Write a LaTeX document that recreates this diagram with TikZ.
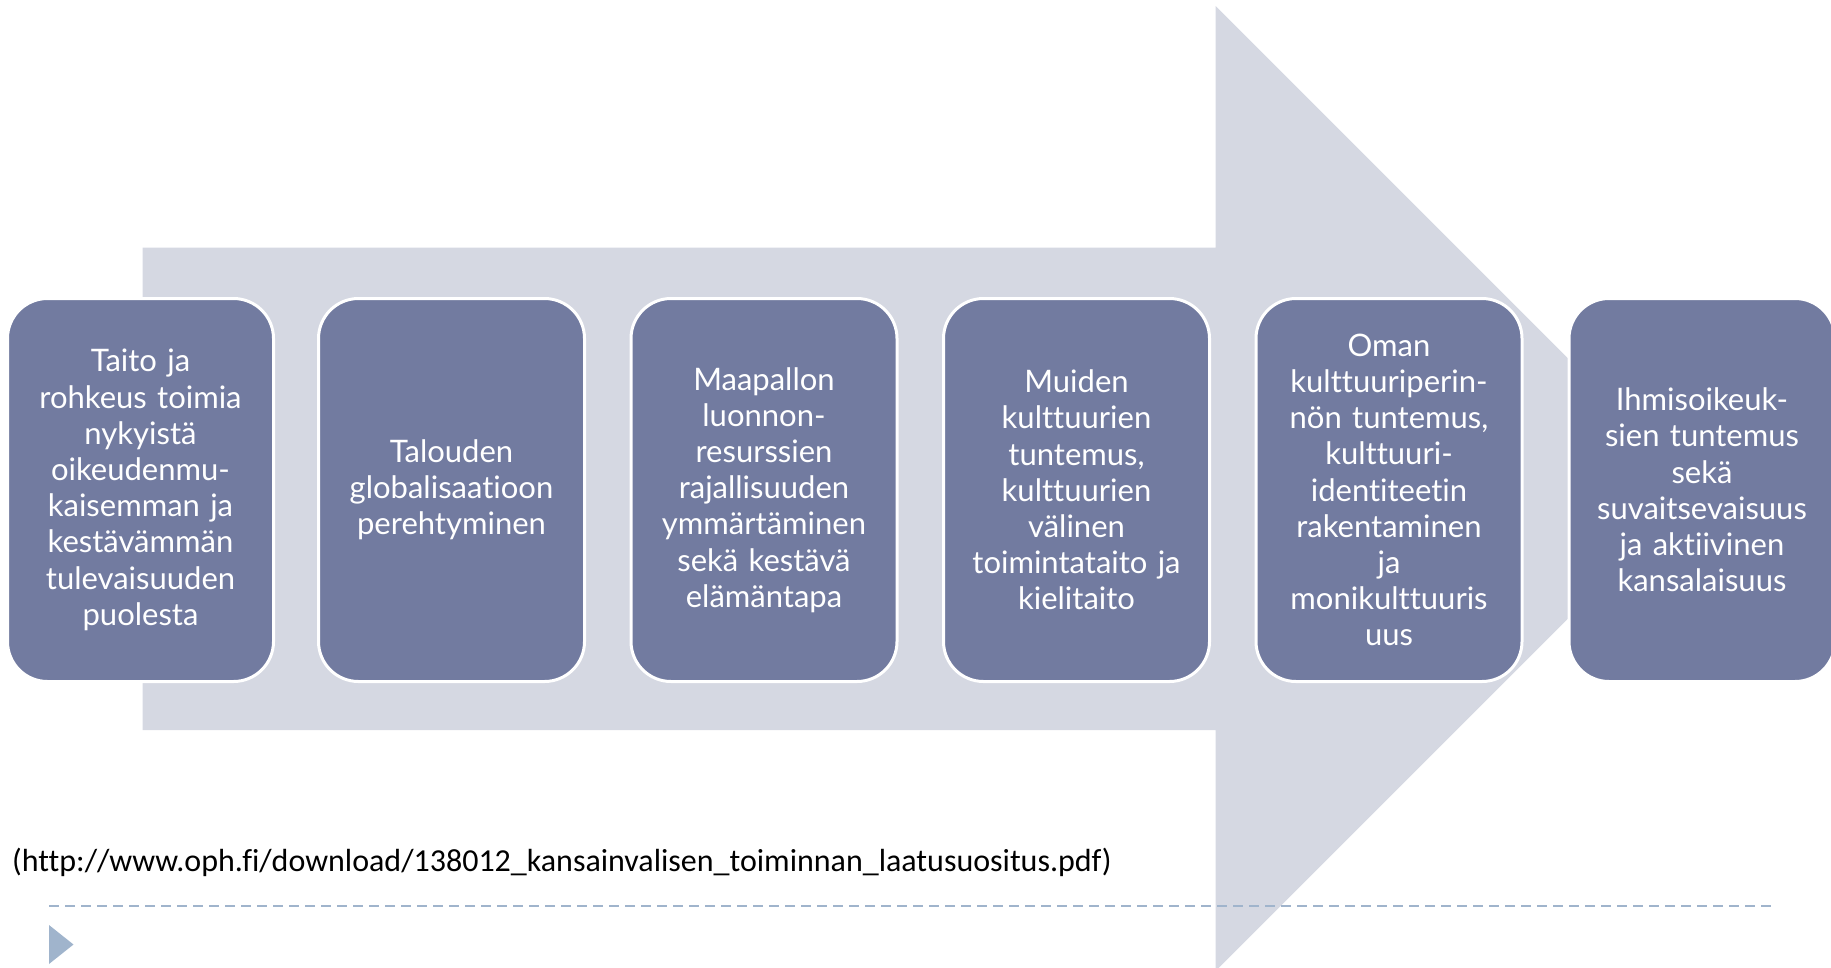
\documentclass[tikz,border=0pt]{standalone}
\usepackage{fontspec}
\setmainfont{Lato}[Ligatures=NoCommon]
\newfontfamily\urlfont{Carlito}[Ligatures=NoCommon]
\definecolor{boxfill}{RGB}{114,123,160}
\definecolor{arrowfill}{RGB}{213,216,226}
\definecolor{accent}{RGB}{160,180,204}
\begin{document}
\begin{tikzpicture}[x=1pt,y=-1pt,
  stage/.style={draw=white, line width=3pt, fill=boxfill, rounded corners=40pt,
    minimum width=266pt, minimum height=383pt, text width=262pt, align=center,
    text=white, font=\fontsize{31}{36.2}\selectfont, inner sep=0pt},
  reftext/.style={anchor=west, inner sep=0pt, font=\urlfont\fontsize{32}{36}\selectfont, text=black}]
\useasboundingbox (0,0) rectangle (1831,967);
\clip (0,0) rectangle (1831,967);
% big arrow
\fill[arrowfill] (142.5,247.5) -- (1215.5,247.5) -- (1215.5,6) -- (1698,488.5)
  -- (1215.5,971) -- (1215.5,730) -- (142.5,730) -- cycle;
% stages
\node[stage] (s1) at (140.5,490) {Taito ja\\rohkeus toimia\\nykyistä\\oikeudenmu-\\kaisemman ja\\kestävämmän\\tulevaisuuden\\puolesta};
\node[stage] (s2) at (451.5,490) {Talouden\\globalisaatioon\\perehtyminen};
\node[stage] (s3) at (764,490) {Maapallon\\luonnon-\\resurssien\\rajallisuuden\\ymmärtäminen\\sekä kestävä\\elämäntapa};
\node[stage] (s4) at (1076.5,490) {Muiden\\kulttuurien\\tuntemus,\\kulttuurien\\välinen\\toimintataito ja\\kielitaito};
\node[stage] (s5) at (1389,490) {Oman\\kulttuuriperin-\\nön tuntemus,\\kulttuuri-\\identiteetin\\rakentaminen\\ja\\monikulttuuris\\uus};
\node[stage] (s6) at (1702,490) {Ihmisoikeuk-\\sien tuntemus\\sekä\\suvaitsevaisuus\\ja aktiivinen\\kansalaisuus};
% reference
\node[reftext] (ref) at (12,862) {(http://www.oph.fi/download/138012\_kansainvalisen\_toiminnan\_laatusuositus.pdf)};
% footer
\coordinate (dl) at (49,906);
\coordinate (dr) at (1777,906);
\draw[accent, line width=1.5pt, dash pattern=on 10pt off 6pt] (dl) -- (dr);
\fill[accent] (49,925) -- (73.5,944.5) -- (49,964) -- cycle;
\end{tikzpicture}
\end{document}
